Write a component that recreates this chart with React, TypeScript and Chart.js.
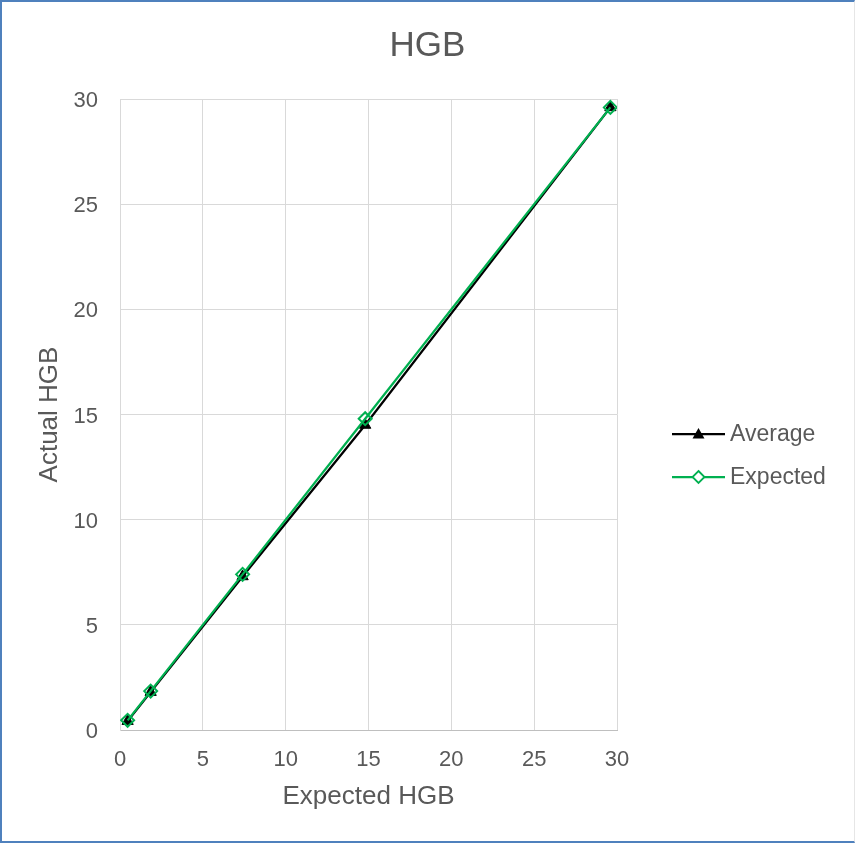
import React, { useEffect, useRef } from "react";
import { Chart, registerables } from "chart.js";

Chart.register(...registerables);

const expectedX = [0.46, 1.85, 7.4, 14.8, 29.6];
const expectedY = [0.46, 1.85, 7.4, 14.8, 29.6];
const averageY = [0.42, 1.8, 7.3, 14.5, 29.6];
const axisTicks = [0, 5, 10, 15, 20, 25, 30];
const seriesNames = ["Average", "Expected"];
const titleText = "HGB";
const xTitle = "Expected HGB";
const yTitle = "Actual HGB";

const FONT = "'Liberation Sans', Arial, sans-serif";
const TXT = "#595959";
const GREEN = "#00B050";

const titlePlugin = {
  id: "customTitle",
  afterDraw(chart: any) {
    const ctx = chart.ctx;
    ctx.save();
    ctx.fillStyle = TXT;
    ctx.font = `35px ${FONT}`;
    ctx.textAlign = "center";
    ctx.textBaseline = "middle";
    ctx.fillText(titleText, chart.width / 2, 46);
    ctx.restore();
  },
};

const legendPlugin = {
  id: "customLegend",
  afterDraw(chart: any) {
    const ctx = chart.ctx;
    const items = [
      { name: seriesNames[0], color: "#000000", marker: "tri" },
      { name: seriesNames[1], color: GREEN, marker: "dia" },
    ];
    const ys = [434, 477];
    ctx.save();
    items.forEach((it, i) => {
      const y = ys[i];
      ctx.strokeStyle = it.color;
      ctx.lineWidth = 2.25;
      ctx.beginPath();
      ctx.moveTo(672, y);
      ctx.lineTo(725, y);
      ctx.stroke();
      const cx = 698.5;
      if (it.marker === "tri") {
        ctx.fillStyle = "#000";
        ctx.beginPath();
        ctx.moveTo(cx, y - 6);
        ctx.lineTo(cx + 6, y + 4.5);
        ctx.lineTo(cx - 6, y + 4.5);
        ctx.closePath();
        ctx.fill();
      } else {
        ctx.fillStyle = "#fff";
        ctx.strokeStyle = GREEN;
        ctx.lineWidth = 1.8;
        ctx.beginPath();
        ctx.moveTo(cx, y - 6);
        ctx.lineTo(cx + 6, y);
        ctx.lineTo(cx, y + 6);
        ctx.lineTo(cx - 6, y);
        ctx.closePath();
        ctx.fill();
        ctx.stroke();
      }
      ctx.fillStyle = TXT;
      ctx.font = `23px ${FONT}`;
      ctx.textBaseline = "middle";
      ctx.textAlign = "left";
      ctx.fillText(it.name, 730, y + 1);
    });
    ctx.restore();
  },
};

const bgPlugin = {
  id: "bg",
  beforeDraw(chart: any) {
    const ctx = chart.ctx;
    ctx.save();
    ctx.fillStyle = "#fff";
    ctx.fillRect(0, 0, chart.width, chart.height);
    ctx.restore();
  },
};

export default function App() {
  const ref = useRef<HTMLCanvasElement>(null);
  useEffect(() => {
    if (!ref.current) return;
    const chart = new Chart(ref.current, {
      type: "scatter",
      data: {
        datasets: [
          {
            label: seriesNames[1],
            data: expectedX.map((x, i) => ({ x, y: expectedY[i] })),
            showLine: true,
            borderColor: GREEN,
            borderWidth: 2.25,
            backgroundColor: "rgba(0,0,0,0)",
            pointStyle: "rectRot",
            pointRadius: 6.5,
            pointBorderWidth: 2,
            pointBorderColor: GREEN,
            order: 0,
          },
          {
            label: seriesNames[0],
            data: expectedX.map((x, i) => ({ x, y: averageY[i] })),
            showLine: true,
            borderColor: "#000000",
            borderWidth: 2.25,
            backgroundColor: "#000000",
            pointStyle: "triangle",
            pointRadius: 6.5,
            pointBorderWidth: 1,
            order: 1,
          },
        ],
      },
      options: {
        animation: false,
        responsive: false,
        layout: { padding: { left: 0, right: 238, top: 99, bottom: 0 } },
        plugins: {
          legend: { display: false },
          tooltip: { enabled: false },
          title: { display: false },
        },
        scales: {
          x: {
            type: "linear",
            min: 0,
            max: 30,
            afterBuildTicks: (s: any) => {
              s.ticks = axisTicks.map((v) => ({ value: v }));
            },
            afterFit: (s: any) => {
              s.height = 113;
            },
            grid: { color: "#d9d9d9", lineWidth: 1, drawTicks: false },
            border: { color: "#bfbfbf", width: 1 },
            ticks: {
              color: TXT,
              font: { family: FONT, size: 22 },
              padding: 17,
              maxRotation: 0,
            },
            title: {
              display: true,
              text: xTitle,
              color: TXT,
              font: { family: FONT, size: 26 },
              padding: { top: 0, bottom: 31 },
            },
          },
          y: {
            type: "linear",
            min: 0,
            max: 30,
            afterBuildTicks: (s: any) => {
              s.ticks = axisTicks.map((v) => ({ value: v }));
            },
            afterFit: (s: any) => {
              s.width = 120;
            },
            grid: { color: "#d9d9d9", lineWidth: 1, drawTicks: false },
            border: { color: "#d9d9d9", width: 1 },
            ticks: {
              color: TXT,
              font: { family: FONT, size: 22 },
              padding: 22,
              labelOffset: 2,
            },
            title: {
              display: true,
              text: yTitle,
              color: TXT,
              font: { family: FONT, size: 26 },
              padding: { top: 34, bottom: 0 },
            },
          },
        },
      },
      plugins: [bgPlugin, titlePlugin, legendPlugin],
    } as any);
    return () => chart.destroy();
  }, []);
  return (
    <div style={{ position: "fixed", left: 0, top: 0, width: 855, height: 843 }}>
      <canvas ref={ref} width={855} height={843} style={{ display: "block" }} />
      <div
        style={{
          position: "absolute",
          left: 0,
          top: 0,
          width: 855,
          height: 843,
          boxSizing: "border-box",
          borderLeft: "2px solid #4f81bd",
          borderTop: "2px solid #4f81bd",
          borderBottom: "2px solid #4f81bd",
          borderRight: "1px solid #e6e6e6",
          pointerEvents: "none",
        }}
      />
    </div>
  );
}
